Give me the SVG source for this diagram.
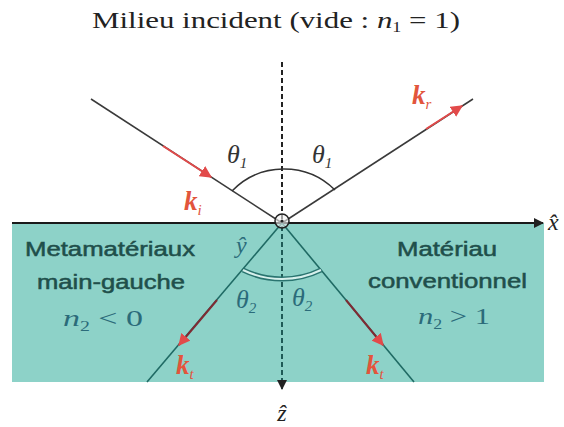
<svg xmlns="http://www.w3.org/2000/svg" width="564" height="427" viewBox="0 0 564 427">
  <style>
    .serif { font-family: "Liberation Serif", "Times New Roman", serif; }
    .sans { font-family: "Liberation Sans", Arial, sans-serif; }
    .it { font-style: italic; }
    .ray { stroke: #3a3a3a; stroke-width: 1.5; fill: none; }
    .tray { stroke: #1f6a64; stroke-width: 1.6; fill: none; }
    .kred { stroke: #e24a4a; stroke-width: 2; fill: none; }
    .kdark { stroke: #7e2b33; stroke-width: 2; fill: none; }
    .klabel { fill: #e2553c; font-weight: bold; font-style: italic; }
    .mat { fill: #1f4f4b; font-size: 20px; stroke: #1f4f4b; stroke-width: 0.5; }
    .blue { fill: #2b6b7a; }
  </style>
  <defs>
    <marker id="arrRed" viewBox="0 0 10 10" refX="9" refY="5" markerWidth="6" markerHeight="6" orient="auto" markerUnits="strokeWidth">
      <path d="M0,0 L10,5 L0,10 z" fill="#e24a4a"/>
    </marker>
    <marker id="arrBlk" viewBox="0 0 10 10" refX="9" refY="5" markerWidth="5" markerHeight="5" orient="auto" markerUnits="strokeWidth">
      <path d="M0,0 L10,5 L0,10 z" fill="#222"/>
    </marker>
  </defs>

  <!-- Title -->
  <text id="title" class="serif" x="92" y="28" font-size="24" fill="#222" textLength="368" lengthAdjust="spacingAndGlyphs">Milieu incident (vide : <tspan class="it">n</tspan><tspan font-size="14" dy="4">1</tspan><tspan dy="-4"> = 1)</tspan></text>

  <!-- Medium (metamaterial / conventional) -->
  <g id="medium">
    <rect x="12" y="223" width="532" height="159" fill="#8dd2c8"/>
  </g>

  <!-- Connectors -->
  <g id="connectors">
    <!-- x axis -->
    <line x1="12" y1="223" x2="543" y2="223" stroke="#1a1a1a" stroke-width="2" marker-end="url(#arrBlk)"/>
    <!-- normal (dashed) -->
    <line x1="282" y1="62" x2="282" y2="223" stroke="#222" stroke-width="2" stroke-dasharray="5 3"/>
    <line x1="282" y1="226" x2="282" y2="389" stroke="#1e5a56" stroke-width="2" stroke-dasharray="5 3" marker-end="url(#arrBlk)"/>
    <!-- incident ray -->
    <line class="ray" x1="91" y1="99" x2="282" y2="223"/>
    <line class="kred" x1="163" y1="146" x2="211" y2="177" marker-end="url(#arrRed)"/>
    <!-- reflected ray -->
    <line class="ray" x1="282" y1="223" x2="473" y2="99"/>
    <line class="kred" x1="426" y1="129" x2="462" y2="106" marker-end="url(#arrRed)"/>
    <!-- transmitted rays -->
    <line class="tray" x1="282" y1="223" x2="147" y2="382"/>
    <line class="kdark" x1="217" y1="300" x2="179" y2="345" marker-end="url(#arrRed)"/>
    <line class="tray" x1="282" y1="223" x2="414" y2="382"/>
    <line class="kdark" x1="346" y1="300" x2="383" y2="345" marker-end="url(#arrRed)"/>
    <!-- angle arcs -->
    <path d="M232,191 A72.5,72.5 0 0 1 335,190" fill="none" stroke="#333" stroke-width="1.5"/>
    <path d="M243,270 A89,89 0 0 0 321,270" fill="none" stroke="#2a7470" stroke-width="5"/>
    <path d="M243,270 A89,89 0 0 0 321,270" fill="none" stroke="#d6f0ec" stroke-width="2"/>
  </g>

  <!-- Origin (y axis out of plane) -->
  <g id="origin">
    <circle cx="282" cy="221" r="7" fill="#f4f4f4" fill-opacity="0.6" stroke="#222" stroke-width="1.5"/>
    <circle cx="282" cy="221" r="1.6" fill="#222"/>
  </g>

  <!-- Labels -->
  <g id="labels">
    <text class="serif it" x="548" y="230" font-size="24" fill="#222">x̂</text>
    <text class="serif it" x="282" y="421" font-size="24" fill="#222" text-anchor="middle">ẑ</text>
    <text class="serif it blue" x="236" y="253" font-size="24">ŷ</text>

    <text class="serif it" x="227" y="163" font-size="26" fill="#333">θ<tspan font-size="15" dy="5">1</tspan></text>
    <text class="serif it" x="312" y="163" font-size="26" fill="#333">θ<tspan font-size="15" dy="5">1</tspan></text>
    <text class="serif it blue" x="236" y="308" font-size="26">θ<tspan font-size="15" dy="5">2</tspan></text>
    <text class="serif it blue" x="292" y="306" font-size="26">θ<tspan font-size="15" dy="5">2</tspan></text>

    <text class="serif klabel" x="184" y="210" font-size="27">k<tspan font-size="15" dy="5" font-weight="normal">i</tspan></text>
    <text class="serif klabel" x="412" y="104" font-size="27">k<tspan font-size="15" dy="5" font-weight="normal">r</tspan></text>
    <text class="serif klabel" x="176" y="374" font-size="27">k<tspan font-size="15" dy="5" font-weight="normal">t</tspan></text>
    <text class="serif klabel" x="366" y="374" font-size="27">k<tspan font-size="15" dy="5" font-weight="normal">t</tspan></text>
  </g>

  <g id="left-medium-text">
    <text class="sans mat" x="25" y="256" textLength="170" lengthAdjust="spacingAndGlyphs">Metamatériaux</text>
    <text class="sans mat" x="37" y="289" textLength="148" lengthAdjust="spacingAndGlyphs">main-gauche</text>
    <text class="serif blue" x="63" y="326" font-size="24" textLength="80" lengthAdjust="spacingAndGlyphs"><tspan class="it">n</tspan><tspan font-size="14" dy="5">2</tspan><tspan dy="-5"> &lt; 0</tspan></text>
  </g>

  <g id="right-medium-text">
    <text class="sans mat" x="397" y="256" textLength="100" lengthAdjust="spacingAndGlyphs">Matériau</text>
    <text class="sans mat" x="368" y="288" textLength="159" lengthAdjust="spacingAndGlyphs">conventionnel</text>
    <text class="serif blue" x="418" y="324" font-size="24" textLength="72" lengthAdjust="spacingAndGlyphs"><tspan class="it">n</tspan><tspan font-size="14" dy="5">2</tspan><tspan dy="-5"> &gt; 1</tspan></text>
  </g>
</svg>
